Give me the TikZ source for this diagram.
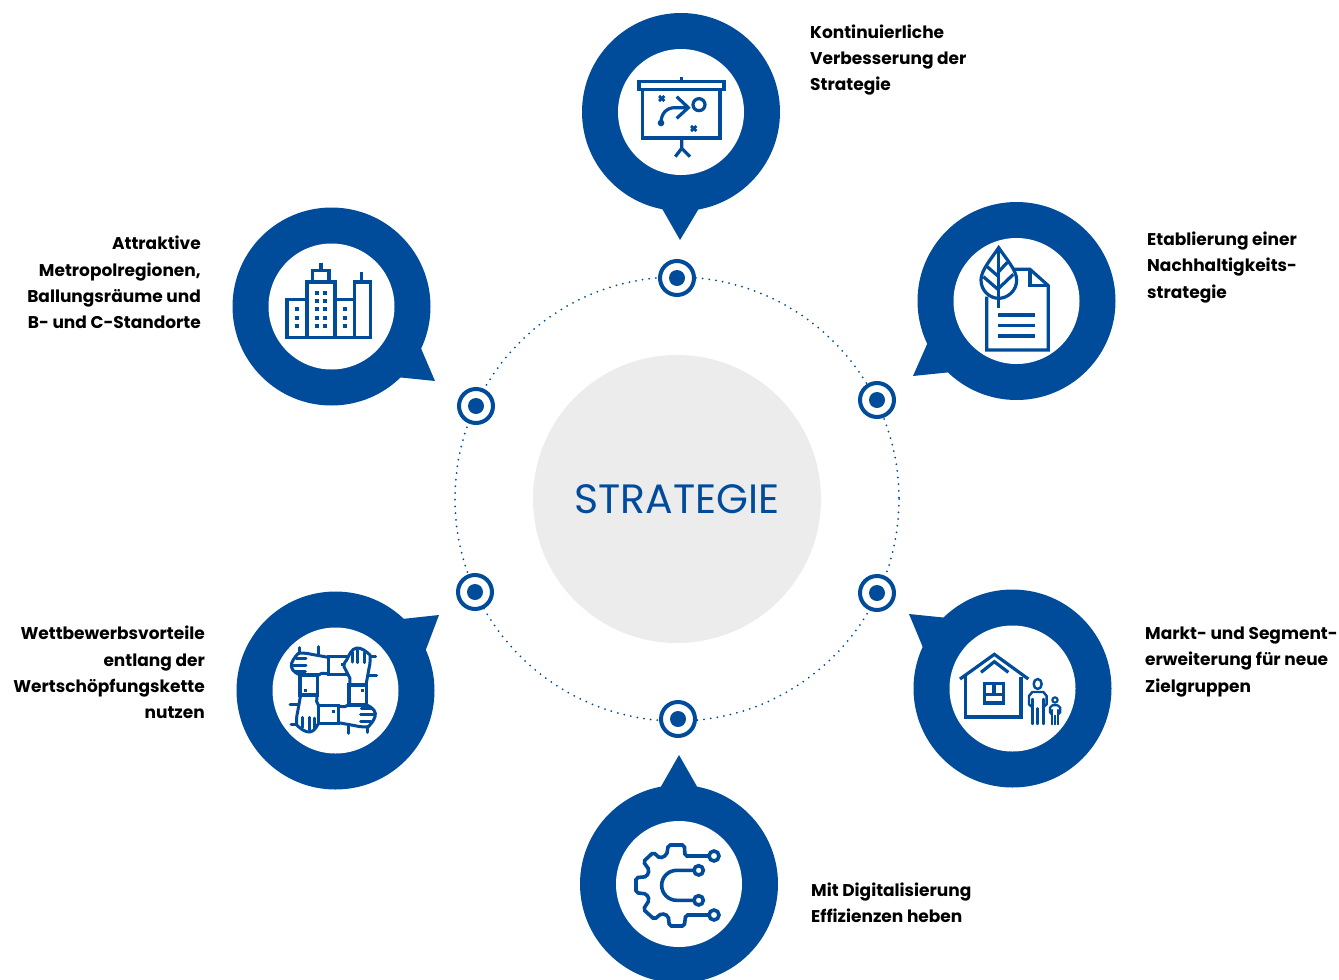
\documentclass[tikz,border=0pt]{standalone}
\usepackage{fontspec}
\setmainfont{Poppins}
\definecolor{brand}{HTML}{004C9B}
\definecolor{disc}{HTML}{ECECEC}
\tikzset{
  px/.style={x=1pt,y=-1pt},
  ring/.style={circle,draw=brand,line width=4pt,fill=white,minimum size=34pt,inner sep=0pt},
  core/.style={circle,fill=brand,minimum size=16pt,inner sep=0pt},
  hole/.style={circle,fill=white,minimum size=126pt,inner sep=0pt},
  lbl/.style={font=\bfseries\fontsize{17}{26.3}\selectfont,text=black,inner sep=0pt},
  ic/.style={draw=brand,line width=3.2pt,line join=miter},
  ict/.style={draw=brand,line width=3pt,line join=round,line cap=round},
}
\newcommand{\pinshape}[5]{%
  \fill[brand] (#1) circle[radius=99];
  \fill[brand] (#3) -- (#2) -- (#4) -- cycle;
  \node[hole] (#5) at (#1) {};
}
\newcommand{\bullt}[2]{%
  \node[ring] (r#1) at (#2) {};
  \node[core] (c#1) at (#2) {};
}
\newcommand{\handunit}{%
  \draw[ict,fill=white] (175,97) -- (125,88) .. controls (110,84) and (95,84) .. (85,85) .. controls (75,95) and (62,112) .. (64,125) .. controls (66,140) and (85,148) .. (100,155) .. controls (108,162) and (115,165) .. (120,163) -- (155,145) -- (175,146);
  \draw[ict] (78,101) -- (108,101) (70,122) -- (108,122) (76,139) -- (106,139);
  \draw[ict] (88,68) -- (88,84) (146,65) -- (146,90);
  \draw[ic,fill=white] (175,95) rectangle (235,148);
}
\begin{document}
\begin{tikzpicture}[px]
\useasboundingbox (0,0) rectangle (1339,980);
\draw[brand,line width=2pt,line cap=round,dash pattern=on 0pt off 6.7pt] (677,499) circle[radius=222];
\node[circle,fill=disc,minimum size=288pt,inner sep=0pt,text=brand,font=\fontsize{41}{41}\selectfont] (centre) at (677,499) {\raisebox{-3pt}{STRATEGIE}};
\bullt{a}{677,278}\bullt{b}{877,400}\bullt{c}{877,593}\bullt{d}{678,719}\bullt{e}{475,592}\bullt{f}{476,406}

\pinshape{681,112}{680,240}{660,205}{701,205}{pa}
\pinshape{1016.5,301}{913,376}{928,342}{952,372}{pb}
\pinshape{1012.5,688.5}{909,614}{948,618}{924,650}{pc}
\pinshape{679,884}{679,755}{659,790}{699,790}{pd}
\pinshape{335.5,690.5}{439,615}{402,619}{425,652}{pe}
\pinshape{331.5,306.5}{435,381}{420,346}{396,377}{pf}

% icon 1: presentation board
\begin{scope}[shift={(610,40)},scale=1/3]
\draw[ic] (87,124) rectangle (342,148);
\draw[ic] (215,112) -- (215,124);
\draw[ic] (97,148) -- (97,294) -- (330,294) -- (330,148);
\draw[ic] (215,294) -- (215,325) (196,350) -- (215,325) -- (240,350);
\draw[ic,line width=2.8pt] (147,168) -- (163,183) (163,168) -- (147,183);
\draw[ic,line width=2.8pt] (243,258) -- (259,273) (259,258) -- (243,273);
\fill[brand] (153,249) circle[radius=10];
\draw[ic] (153,249) .. controls (153,220) and (170,203) .. (195,203) -- (235,203);
\draw[ic] (200,170) -- (235,203) -- (200,235);
\draw[ic] (267,194) circle[radius=18];
\end{scope}

% icon 2: document and leaf
\begin{scope}[shift={(950,235)},scale=1/3]
\draw[ic] (190,103) -- (240,103) -- (295,152) -- (295,345) -- (110,345) -- (110,185);
\draw[ic] (240,103) -- (240,152) -- (295,152);
\draw[ic] (145,240) -- (255,240) (145,272) -- (255,272) (145,303) -- (255,303);
\draw[ic,fill=white] (146,38) .. controls (125,70) and (93,105) .. (93,135) .. controls (93,168) and (120,190) .. (146,190) .. controls (172,190) and (200,168) .. (200,135) .. controls (200,105) and (167,70) .. (146,38) -- cycle;
\draw[ic] (146,38) -- (146,220);
\draw[ic] (146,125) -- (108,92) (146,165) -- (100,125) (146,110) -- (172,82) (146,160) -- (190,118);
\end{scope}

% icon 3: house and people
\begin{scope}[shift={(945,625)},scale=1/3]
\draw[ic] (45,162) -- (148,88) -- (250,162);
\draw[ic] (108,142) -- (148,110) -- (190,142);
\draw[ic] (62,150) -- (62,276) -- (228,276) -- (228,155);
\draw[ic] (118,176) rectangle (176,234);
\draw[ic] (118,208) -- (176,208) (147,176) -- (147,208);
\draw[ict,line width=2.4pt] (278,177) ellipse[x radius=12,y radius=15];
\draw[ict,line width=2.4pt] (260,245) -- (252,238) -- (252,213) -- (262,201) -- (295,201) -- (305,213) -- (305,238) -- (297,245);
\draw[ict,line width=2.4pt] (262,297) -- (262,222) (295,297) -- (295,222) (278,297) -- (278,250);
\draw[ict,line width=2.2pt] (330,225) circle[radius=8];
\draw[ict,line width=2.2pt] (320,268) -- (315,262) -- (315,248) -- (322,241) -- (338,241) -- (346,248) -- (346,262) -- (340,268);
\draw[ict,line width=2.2pt] (322,298) -- (322,255) (338,298) -- (338,255) (330,298) -- (330,272);
\end{scope}

% icon 4: gear
\begin{scope}[shift={(615,820)},scale=1/3]
\draw[ic,line width=3.6pt,rounded corners=2pt] (285,108) -- (210,108) -- (208,75) -- (160,75) -- (155,105) -- (135,115) -- (115,97) -- (85,125) -- (103,150) -- (95,170) -- (63,173) -- (63,218) -- (95,222) -- (103,240) -- (85,268) -- (118,298) -- (140,280) -- (160,288) -- (163,318) -- (208,318) -- (212,285) -- (285,285);
\draw[ic,line width=3.6pt] (297,108) circle[radius=15] (297,285) circle[radius=15] (251,151) circle[radius=14] (251,241) circle[radius=14];
\draw[ic,line width=3.6pt] (237,151) -- (185,151) arc[start angle=270,end angle=90,radius=45] -- (237,241);
\end{scope}

% icon 5: four hands
\begin{scope}[shift={(270,625)},scale=1/3]
\handunit
\begin{scope}[rotate around={90:(190,195)}]\handunit\end{scope}
\begin{scope}[rotate around={180:(190,195)}]\handunit\end{scope}
\begin{scope}[rotate around={270:(190,195)}]\handunit\end{scope}
\foreach \p in {(218,118),(277,195),(190,258),(107,197)} \fill[brand] \p ++(-4.5,-4.5) rectangle ++(9,9);
\end{scope}

% icon 6: city
\begin{scope}[shift={(265,240)},scale=1/3]
\draw[ic] (66,178) rectangle (126,292);
\draw[ic] (126,126) rectangle (210,292);
\draw[ic] (210,178) rectangle (268,292);
\draw[ic] (268,126) rectangle (316,292);
\draw[ic] (143,92) rectangle (192,126);
\draw[ic] (168,68) -- (168,92) (290,95) -- (290,126);
\foreach \yy in {158,183,208,233,258} \foreach \xx in {155,181} \fill[brand] (\xx-6,\yy-6) rectangle ++(12,12);
\foreach \yy in {208,233,258} \foreach \xx in {97,239} \fill[brand] (\xx-6,\yy-6) rectangle ++(12,12);
\end{scope}

\node[lbl,anchor=west,align=left] (ta) at (810,60) {Kontinuierliche\\Verbesserung der\\Strategie};
\node[lbl,anchor=west,align=left] (tb) at (1147,267.5) {Etablierung einer\\Nachhaltigkeits-\\strategie};
\node[lbl,anchor=west,align=left] (tc) at (1145,662) {Markt- und Segment-\\erweiterung für neue\\Zielgruppen};
\node[lbl,anchor=west,align=left] (td) at (811,903) {Mit Digitalisierung\\Effizienzen heben};
\node[lbl,anchor=east,align=right] (te) at (205,672.5) {Wettbewerbsvorteile\\entlang der\\Wertschöpfungskette\\nutzen};
\node[lbl,anchor=east,align=right] (tf) at (201,282.5) {Attraktive\\Metropolregionen,\\Ballungsräume und\\B- und C-Standorte};
\end{tikzpicture}
\end{document}
